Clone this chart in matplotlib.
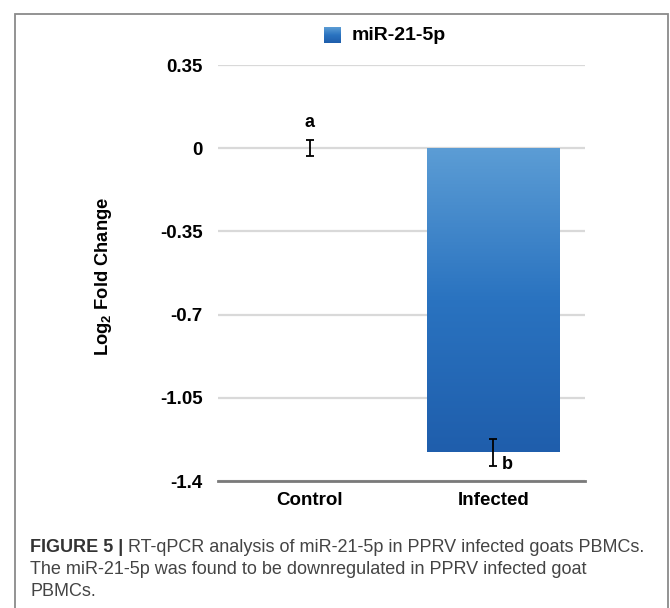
import numpy as np
import matplotlib
matplotlib.use("Agg")
import matplotlib.pyplot as plt
from matplotlib.patches import Rectangle
from matplotlib.colors import LinearSegmentedColormap

plt.rcParams['font.family'] = ['Liberation Sans', 'DejaVu Sans']
plt.rcParams['mathtext.fontset'] = 'custom'
plt.rcParams['mathtext.rm'] = 'Liberation Sans:bold'
plt.rcParams['mathtext.bf'] = 'Liberation Sans:bold'
plt.rcParams['mathtext.default'] = 'rm'

# ---- data ----
categories = ["Control", "Infected"]
values = [0.0, -1.28]
errors = [0.034, 0.057]
letters = ["a", "b"]
series_name = "miR-21-5p"
yticks = [0.35, 0, -0.35, -0.7, -1.05, -1.4]
ytick_labels = ["0.35", "0", "-0.35", "-0.7", "-1.05", "-1.4"]
caption_bold = "FIGURE 5 |"
caption_lines = [" RT-qPCR analysis of miR-21-5p in PPRV infected goats PBMCs.",
                 "The miR-21-5p was found to be downregulated in PPRV infected goat",
                 "PBMCs."]

W, H = 670, 608
fig = plt.figure(figsize=(W / 100, H / 100), dpi=100)
fig.patch.set_facecolor("white")

def fx(px):
    return px / W

def fy(py):
    return 1 - py / H

# outer border
fig.patches.append(Rectangle((fx(15), fy(640)), fx(668) - fx(15), fy(14) - fy(640),
                             transform=fig.transFigure, fill=False,
                             edgecolor="#8a8a8a", linewidth=1.3))

ax = fig.add_axes([fx(218), fy(481), fx(585) - fx(218), fy(65) - fy(481)])
x = np.arange(len(categories))

cmap = LinearSegmentedColormap.from_list("blu", ["#5c9dd5", "#2a73c0", "#1f5eac"])

bars = ax.bar(x, values, width=0.72, color="none", edgecolor="none", zorder=2)
for b in bars:
    h = b.get_height()
    if abs(h) < 1e-9:
        continue
    x0, y0 = b.get_x(), b.get_y()
    grad = np.linspace(0, 1, 256).reshape(-1, 1)
    top = max(y0, y0 + h)
    bot = min(y0, y0 + h)
    im = ax.imshow(grad, cmap=cmap, aspect="auto",
                   extent=[x0, x0 + b.get_width(), bot, top], origin="upper", zorder=2)
    im.set_clip_path(b)
ax.set_xlim(-0.5, len(categories) - 0.5)
ax.set_ylim(-1.4, 0.35)

ax.errorbar(x, values, yerr=errors, fmt="none", ecolor="black", elinewidth=1.3,
            capsize=3, capthick=1.3, zorder=3)

# letters
ax.text(x[0], values[0] + 0.11, letters[0], ha="center", va="center",
        fontsize=13, fontweight="bold")
ax.text(x[1] + 0.045, values[1] - 0.05, letters[1], ha="left", va="center",
        fontsize=13, fontweight="bold")

ax.set_yticks(yticks)
ax.set_yticklabels(ytick_labels, fontsize=13.5, fontweight="bold")
ax.set_xticks(x)
ax.set_xticklabels(categories, fontsize=13.5, fontweight="bold")
ax.tick_params(axis="both", length=0)
ax.tick_params(axis="y", pad=11)
ax.tick_params(axis="x", pad=8)
for s in ["top", "right", "left"]:
    ax.spines[s].set_visible(False)
ax.spines["bottom"].set_color("#7a7a7a")
ax.spines["bottom"].set_linewidth(2)
ax.yaxis.grid(True, color="#d9d9d9", linewidth=1.6, zorder=0)
ax.set_axisbelow(True)

ax.set_ylabel("Log$_2$ Fold Change", fontsize=13.2, fontweight="bold")
ax.yaxis.set_label_coords((114 - 218) / (585 - 218), (481 - 276) / (481 - 65))

# legend (manual, gradient square)
lax = fig.add_axes([fx(324), fy(43), fx(341) - fx(324), fy(27) - fy(43)])
lax.imshow(np.linspace(0, 1, 64).reshape(-1, 1), cmap=cmap, aspect="auto")
lax.axis("off")
fig.text(fx(352), fy(35), series_name, ha="left", va="center",
         fontsize=14, fontweight="bold")

# caption
fig.canvas.draw()
r = fig.canvas.get_renderer()
tb = fig.text(fx(30), fy(548), caption_bold, ha="left", va="center",
              fontsize=13, fontweight="bold", color="#333333")
bb = tb.get_window_extent(r)
t1 = fig.text(bb.x1 / W, fy(548), caption_lines[0], ha="left", va="center",
              fontsize=13, color="#444444")
fig.canvas.draw()
tot = t1.get_window_extent(r).x1 - bb.x0
scale = (643 - 30) / tot
fs = 13 * scale
tb.set_fontsize(fs)
bb = tb.get_window_extent(r)
t1.set_fontsize(fs)
t1.set_x(bb.x1 / W)
fig.text(fx(30), fy(570), caption_lines[1], ha="left", va="center",
         fontsize=fs, color="#444444")
fig.text(fx(30), fy(592), caption_lines[2], ha="left", va="center",
         fontsize=fs, color="#444444")

fig.savefig("out.png", dpi=100)
